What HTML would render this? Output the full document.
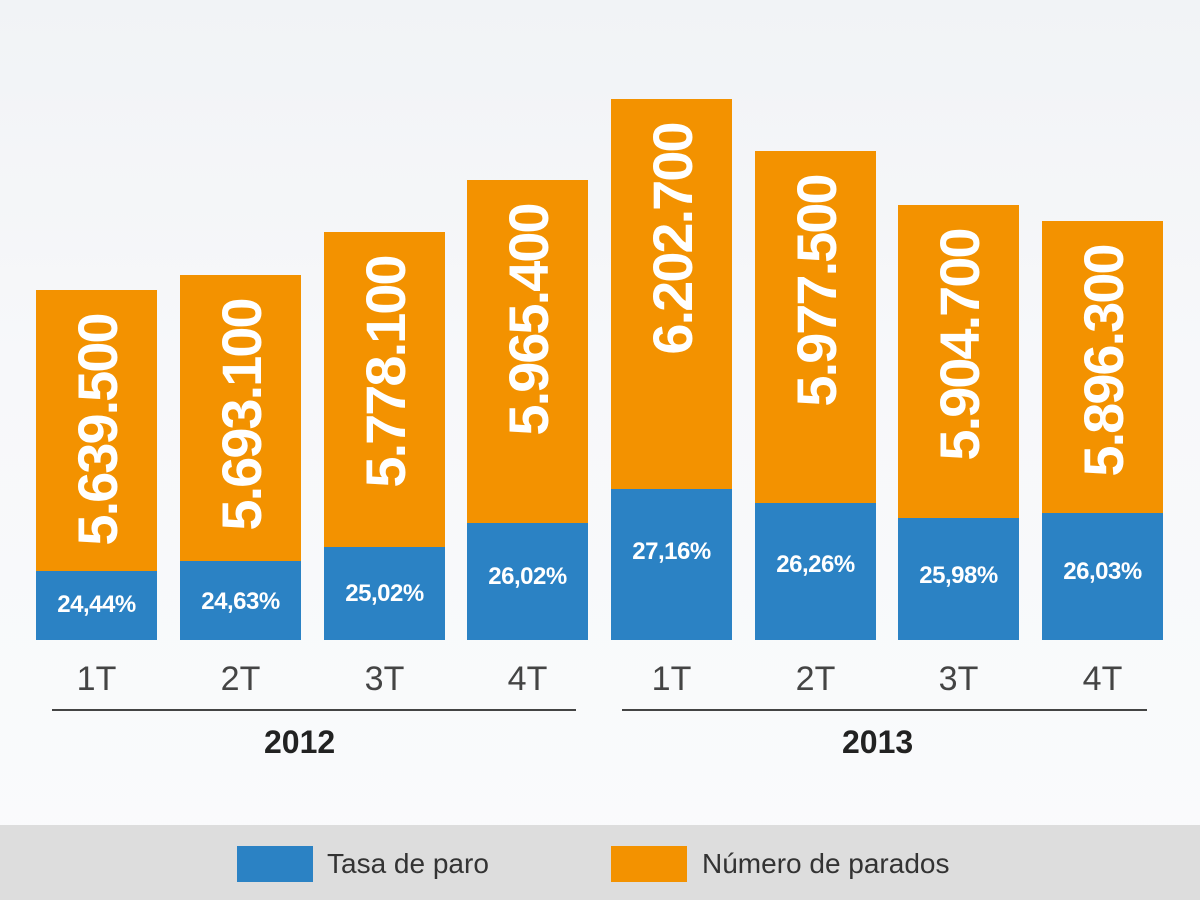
<!DOCTYPE html>
<html><head><style>
body{margin:0;width:1200px;height:900px;position:relative;overflow:hidden;background:linear-gradient(180deg,#f1f3f6 0%,#f7f8fa 40%,#fafbfc 100%);font-family:"Liberation Sans",sans-serif}
.b{position:absolute;width:121px}
.o{background:#f39200}
.bl{background:#2b82c4}
.n{position:absolute;left:60px;transform:translateX(-50%) rotate(-90deg);transform-origin:center;color:#fff;font-weight:bold;font-size:56px;letter-spacing:-2px;white-space:nowrap;line-height:50px}
.p{position:absolute;width:121px;text-align:center;color:#fff;font-weight:bold;font-size:24px;letter-spacing:-0.5px}
.q{position:absolute;width:121px;text-align:center;color:#444;font-size:34px;top:660px}
.y{position:absolute;font-size:32px;font-weight:bold;color:#222;top:724px}
.ln{position:absolute;height:2px;background:#444;top:709px}
</style></head><body>
<div style="position:absolute;left:0;top:825px;width:1200px;height:75px;background:#dddddd"></div>
<div style="position:absolute;left:237px;top:846px;width:76px;height:36px;background:#2b82c4"></div>
<div style="position:absolute;left:327px;top:846px;font-size:28px;color:#333;line-height:36px">Tasa de paro</div>
<div style="position:absolute;left:611px;top:846px;width:76px;height:36px;background:#f39200"></div>
<div style="position:absolute;left:702px;top:846px;font-size:28px;color:#333;line-height:36px">Número de parados</div>
<div class="ln" style="left:52px;width:524px"></div>
<div class="ln" style="left:622px;width:525px"></div>
<div class="y" style="left:264px">2012</div>
<div class="y" style="left:842px">2013</div>
<script>
var d=[[36,290,571,"5.639.500","24,44%",605],[180,275,561,"5.693.100","24,63%",602],[324,232,547,"5.778.100","25,02%",594],[467,180,523,"5.965.400","26,02%",577],[611,99,489,"6.202.700","27,16%",552],[755,151,503,"5.977.500","26,26%",565],[898,205,518,"5.904.700","25,98%",576],[1042,221,513,"5.896.300","26,03%",572]];
var h="";
d.forEach(function(r,i){
var ot=r[1],bt=r[2];
h+='<div class="b o" style="left:'+r[0]+'px;top:'+ot+'px;height:'+(bt-ot)+'px"></div>';
h+='<div class="b bl" style="left:'+r[0]+'px;top:'+bt+'px;height:'+(640-bt)+'px"></div>';
var c=ot+25+115;
h+='<div class="n" style="left:'+(r[0]+62)+'px;top:'+(c-25)+'px">'+r[3]+'</div>';
h+='<div class="p" style="left:'+r[0]+'px;top:'+(r[5]-14)+'px">'+r[4]+'</div>';
h+='<div class="q" style="left:'+r[0]+'px">'+((i%4)+1)+'T</div>';
});
document.write(h);
</script>
</body></html>
